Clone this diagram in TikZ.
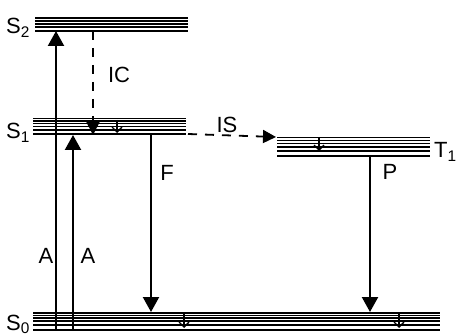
\documentclass[tikz,border=0pt]{standalone}
\usepackage{fontspec}
\setmainfont{Liberation Sans}
\usetikzlibrary{arrows.meta}
\begin{document}
\begin{tikzpicture}[x=1pt,y=-1pt,
  level/.style={line width=1.6pt},
  trans/.style={line width=2.2pt,-{Triangle[width=16pt,length=15pt]}},
  nonrad/.style={line width=1.8pt,dash pattern=on 9pt off 8pt,-{Triangle[width=13pt,length=13pt]}},
  relax/.style={line width=1.3pt,-{Straight Barb[length=5pt,width=10pt,line width=1.3pt]}},
  lab/.style={font=\fontsize{22}{22}\selectfont,inner sep=0pt},
]
\useasboundingbox (0,0) rectangle (462,336);

% energy levels: a bottom line and its vibrational sublevels
\foreach \d in {0,4,7,10,13}
  \draw[level] (35,31-\d) -- (188,31-\d);
\foreach \d in {0,4,7.5,10.5,13,15.5}
  \draw[level] (33,134-\d) -- (186,134-\d);
\foreach \d in {0,5,9,12.5,15.5,18.5}
  \draw[level] (277,156-\d) -- (430,156-\d);
\foreach \d in {0,5,9,12,14.5,17}
  \draw[level] (33,330-\d) -- (440,330-\d);

% level labels
\node[lab,anchor=base west] (s2) at (6,34) {S\textsubscript{2}};
\node[lab,anchor=base west] (s1) at (6,139) {S\textsubscript{1}};
\node[lab,anchor=base west] (t1) at (434,158) {T\textsubscript{1}};
\node[lab,anchor=base west] (s0) at (6,330) {S\textsubscript{0}};

% end points of the transitions
\coordinate (a1s) at (56,330);  \coordinate (a1e) at (56,31);
\coordinate (a2s) at (73,330);  \coordinate (a2e) at (73,135);
\coordinate (fs)  at (151,134); \coordinate (fe)  at (151,312);
\coordinate (ps)  at (370,156); \coordinate (pe)  at (370,312);
\coordinate (ics) at (93,31);   \coordinate (ice) at (93,135);
\coordinate (iss) at (188,134); \coordinate (ise) at (276,137);
\coordinate (r1s) at (117,120); \coordinate (r1e) at (117,133);
\coordinate (r2s) at (319,137); \coordinate (r2e) at (319,151);
\coordinate (r3s) at (184,313); \coordinate (r3e) at (184,328);
\coordinate (r4s) at (399,313); \coordinate (r4e) at (399,328);

% absorption, fluorescence, phosphorescence
\draw[trans] (a1s) -- (a1e);
\draw[trans] (a2s) -- (a2e);
\draw[trans] (fs) -- (fe);
\draw[trans] (ps) -- (pe);

% internal conversion and intersystem crossing
\draw[nonrad] (ics) -- (ice);
\draw[nonrad] (iss) -- (ise);

% vibrational relaxation
\draw[relax] (r1s) -- (r1e);
\draw[relax] (r2s) -- (r2e);
\draw[relax] (r3s) -- (r3e);
\draw[relax] (r4s) -- (r4e);

% transition labels
\node[lab] (la1) at (46,256) {A};
\node[lab] (la2) at (88,256) {A};
\node[lab] (lf)  at (167,173) {F};
\node[lab] (lp)  at (390,172) {P};
\node[lab] (lic) at (119,75) {IC};
\node[lab] (lis) at (227,125) {IS};
\end{tikzpicture}
\end{document}
